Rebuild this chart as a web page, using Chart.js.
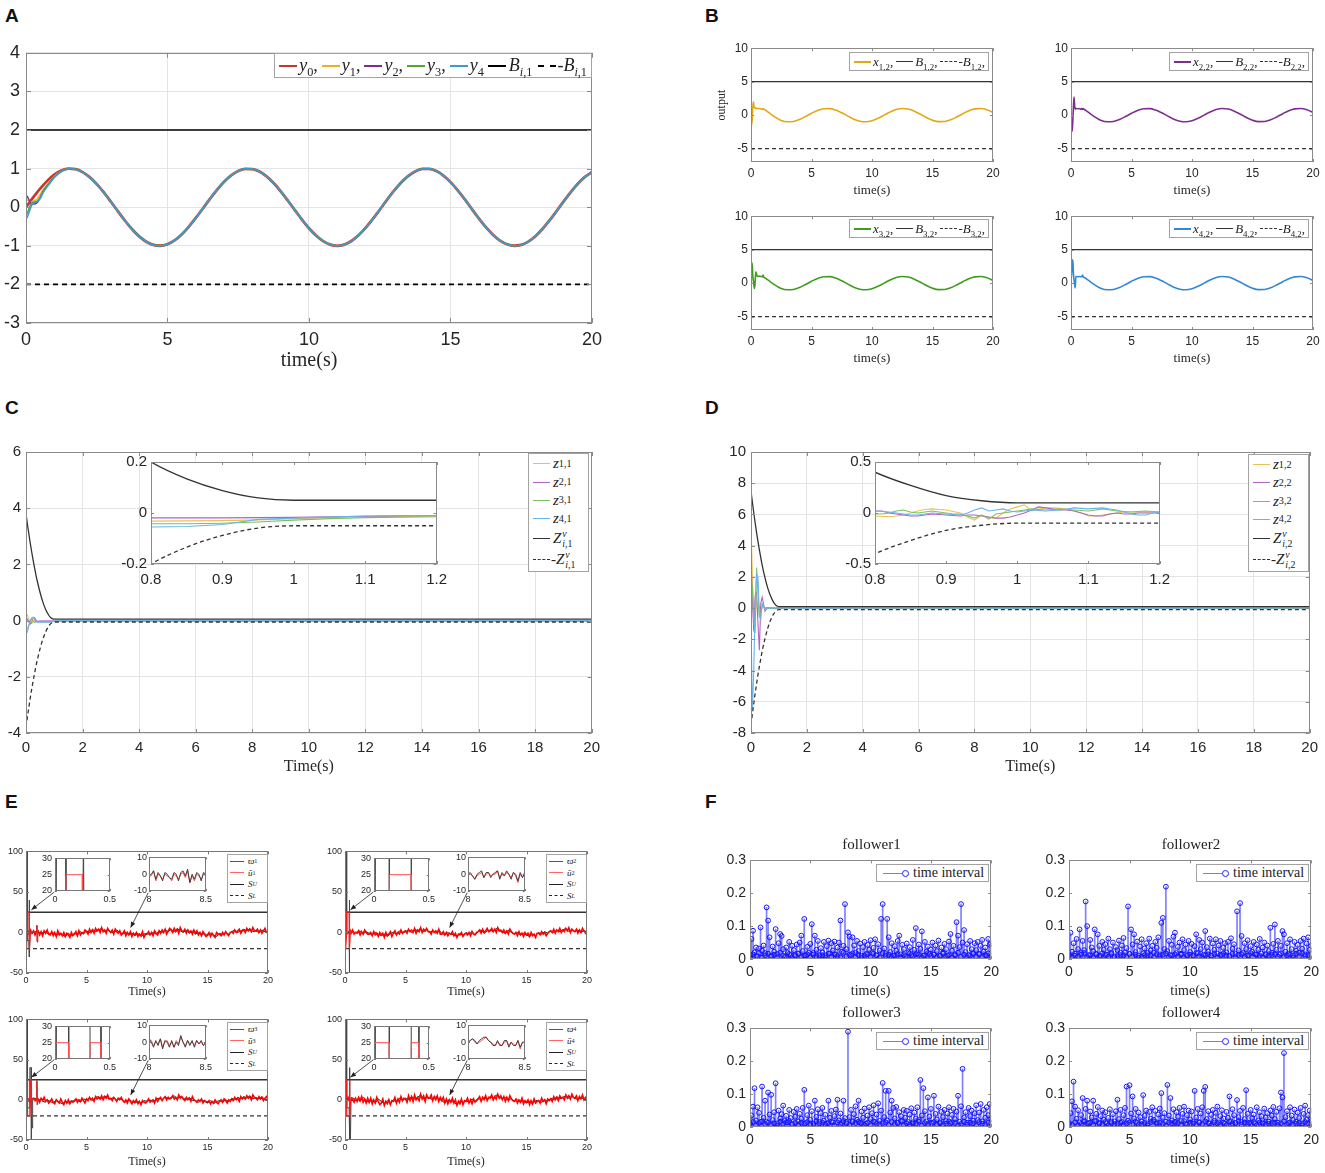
<!DOCTYPE html>
<html>
<head>
<meta charset="utf-8">
<title>Figure</title>
<script src="https://cdn.jsdelivr.net/npm/chart.js@4.4.1/dist/chart.umd.min.js"></script>
<style>
  html, body { margin: 0; padding: 0; background: #fff; }
  #root { position: relative; width: 1325px; height: 1173px; overflow: hidden; }
  #root canvas { position: absolute; }
  .pl { position: absolute; font: bold 19px "Liberation Sans", Arial, sans-serif; color: #111; }
  .lg { position: absolute; z-index: 10; background: #fff; border: 1px solid #a3a3a3; box-sizing: border-box;
        font-family: "Liberation Serif", "DejaVu Serif", serif; color: #222; white-space: nowrap;
        display: flex; align-items: center; }
  .col { flex-direction: column; align-items: flex-start; justify-content: space-evenly; }
  .row { display: flex; align-items: center; }
  .sw { display: inline-block; height: 0; border-top: 2px solid #000; }
  .dash { border-top-style: dashed; }
  sub, sup { font-size: 68%; line-height: 0; }
  .ss { display: inline-flex; flex-direction: column; font-size: 66%; line-height: 1; vertical-align: middle; margin-left: 1px; }
  .ft { position: absolute; z-index: 10; text-align: center; font: 15px "Liberation Serif", serif; color: #222; }
  .mk { display: inline-block; position: relative; width: 26px; height: 8px; margin: 0 4px 0 6px; }
  .mk::before { content: ""; position: absolute; left: 0; right: 3px; top: 3.5px; border-top: 1px solid #7777ff; }
  .mk::after { content: ""; position: absolute; right: 0; top: 0.5px; width: 5px; height: 5px; border: 1px solid #2222ff; border-radius: 50%; background: #fff; }
</style>
</head>
<body>
<div id="root">
  <div class="pl" style="left:5px;top:5px">A</div>
  <div class="pl" style="left:705px;top:5px">B</div>
  <div class="pl" style="left:5px;top:397px">C</div>
  <div class="pl" style="left:705px;top:397px">D</div>
  <div class="pl" style="left:5px;top:791px">E</div>
  <div class="pl" style="left:705px;top:791px">F</div>
</div>
<script>
// ---- panel A : outputs y0..y4 ----
var tA = [0,0.25,0.5,0.75, 1,1.25,1.5,1.75, 2,2.25,2.5,2.75, 3,3.25,3.5,3.75, 4,4.25,4.5,4.75,
  5,5.25,5.5,5.75, 6,6.25,6.5,6.75, 7,7.25,7.5,7.75, 8,8.25,8.5,8.75, 9,9.25,9.5,9.75,
  10,10.25,10.5,10.75, 11,11.25,11.5,11.75, 12,12.25,12.5,12.75, 13,13.25,13.5,13.75, 14,14.25,14.5,14.75,
  15,15.25,15.5,15.75, 16,16.25,16.5,16.75, 17,17.25,17.5,17.75, 18,18.25,18.5,18.75, 19,19.25,19.5,19.75, 20];
var y0 = [0,0.247,0.479,0.682, 0.841,0.949,0.997,0.984, 0.909,0.778,0.598,0.382, 0.141,-0.108,-0.351,-0.572,
  -0.757,-0.895,-0.978,-0.999, -0.959,-0.859,-0.706,-0.508, -0.279,-0.033,0.215,0.450, 0.657,0.823,0.938,0.995,
  0.989,0.922,0.798,0.625, 0.412,0.174,-0.075,-0.320, -0.544,-0.734,-0.880,-0.970, -1.000,-0.968,-0.876,-0.729,
  -0.537,-0.311,-0.066,0.183, 0.420,0.632,0.804,0.926, 0.991,0.994,0.935,0.818, 0.650,0.442,0.207,-0.042,
  -0.288,-0.517,-0.712,-0.865, -0.961,-0.999,-0.976,-0.891, -0.751,-0.564,-0.343,-0.099, 0.150,0.390,0.606,0.784, 0.913];
var tA0 = [0,0.05,0.1,0.15,0.2,0.3,0.4,0.5,0.6,0.8,1.0,1.25,1.5];
var y1T = [0.2,0.18,0.15,0.14,0.14,0.17,0.22,0.33,0.45,0.63,0.8,0.94,0.995];
var y2T = [0.3,0.27,0.2,0.13,0.09,0.08,0.12,0.25,0.4,0.6,0.78,0.93,0.995];
var y3T = [-0.2,-0.15,-0.05,0.05,0.1,0.14,0.16,0.25,0.4,0.6,0.78,0.93,0.995];
var y4T = [-0.3,-0.25,-0.15,-0.05,0.05,0.12,0.15,0.22,0.37,0.58,0.77,0.92,0.995];
var tEnds = [0, 20];
var bndA = [2, 2], bndAn = [-2, -2];
var ticksA_x = [0,5,10,15,20], ticksA_y = [-3,-2,-1,0,1,2,3,4];

// ---- panel B : states x_{i,2} ----
var tB0 = [0,0.05,0.1,0.15,0.2,0.25,0.3,0.35,0.4,0.5,0.6,0.7,0.8,0.9,0.95,1.0,1.05,1.1,1.3,1.6,2.0];
var xT1 = [0,-1.5,-0.6,1.2,2.0,1.3,1.1,1.05,1.05,1.0,1.0,0.98,0.95,0.9,0.85,1.0,0.85,0.85,0.6,0.2,-0.3];
var xT2 = [0,-1.2,-2.4,-0.8,1.2,2.7,1.4,0.9,1.0,1.0,0.95,1.0,0.9,1.0,0.85,1.0,0.9,0.85,0.6,0.2,-0.3];
var xT3 = [0,2.0,3.0,1.0,0.3,-0.5,-0.8,0.5,1.7,1.1,1.0,1.05,1.0,0.95,1.0,1.2,0.9,0.85,0.6,0.2,-0.3];
var xT4 = [0,1.5,3.0,3.5,1.5,0.5,-0.2,-0.7,1.0,1.0,0.95,1.0,0.95,1.0,1.2,0.95,0.9,0.85,0.6,0.2,-0.3];
var tB = [2.5,3,3.5,4,4.5, 5,5.5,6,6.5,7, 7.5,8,8.5,9,9.5, 10,10.5,11,11.5,12, 12.5,13,13.5,14,14.5,
  15,15.5,16,16.5,17, 17.5,18,18.5,19,19.5, 20];
var xB = [-0.801,-0.990,-0.937,-0.654,-0.211, 0.284,0.709,0.960,0.977,0.754, 0.347,-0.146,-0.602,-0.911,-0.997,
  -0.839,-0.476,0.004,0.483,0.844, 0.998,0.907,0.595,0.137,-0.355, -0.760,-0.975,-0.958,-0.702,-0.275,
  0.219,0.660,0.942,0.989,0.796, 0.408];
var bndB = [5, 5], bndBn = [-5, -5];
var ticksB_y = [-5,0,5,10];

// ---- panels C, D : errors z_{i,1}, z_{i,2} and bounds ----
var tZ = [0,0.05,0.1,0.15,0.2,0.25,0.3,0.35,0.4, 0.5,0.6,0.7,0.8, 0.85,0.9,0.95,1.0, 1.05,1.1,1.15,1.2, 2,5,10,15,20];
var ZvC = [3.8,3.43,3.09,2.76,2.45,2.16,1.89,1.63,1.4, 0.99,0.65,0.39,0.2, 0.134,0.088,0.059,0.05, 0.05,0.05,0.05,0.05, 0.05,0.05,0.05,0.05,0.05];
var ZvCn = [-3.8,-3.43,-3.09,-2.76,-2.45,-2.16,-1.89,-1.63,-1.4, -0.99,-0.65,-0.39,-0.2, -0.134,-0.088,-0.059,-0.05, -0.05,-0.05,-0.05,-0.05, -0.05,-0.05,-0.05,-0.05,-0.05];
var zC1 = [0.25,0.2,0.06,-0.05,-0.1,-0.05,0.02,0.0,-0.03, -0.032,-0.032,-0.032,-0.032, -0.031,-0.03,-0.027,-0.022, -0.018,-0.015,-0.013,-0.012, -0.01,-0.01,-0.01,-0.01,-0.01];
var zC2 = [0.1,0.05,-0.05,-0.12,-0.05,0.08,0.1,0.02,-0.03, -0.02,-0.02,-0.02,-0.019, -0.019,-0.019,-0.018,-0.017, -0.015,-0.013,-0.012,-0.011, -0.01,-0.01,-0.01,-0.01,-0.01];
var zC3 = [-0.3,-0.3,-0.15,0.0,0.05,-0.02,-0.06,-0.04,-0.04, -0.042,-0.042,-0.042,-0.042, -0.042,-0.04,-0.035,-0.028, -0.022,-0.018,-0.016,-0.015, -0.012,-0.012,-0.012,-0.012,-0.012];
var zC4 = [-0.48,-0.4,-0.2,0.0,0.1,0.12,0.05,-0.05,-0.06, -0.055,-0.055,-0.055,-0.055, -0.053,-0.045,-0.025,-0.02, -0.016,-0.012,-0.01,-0.01, -0.008,-0.008,-0.008,-0.008,-0.008];
var ZvD = [7.5,6.78,6.09,5.45,4.84,4.26,3.73,3.23,2.76, 1.95,1.28,0.77,0.4, 0.27,0.17,0.12,0.1, 0.1,0.1,0.1,0.1, 0.1,0.1,0.1,0.1,0.1];
var ZvDn = [-7.5,-6.78,-6.09,-5.45,-4.84,-4.26,-3.73,-3.23,-2.76, -1.95,-1.28,-0.77,-0.4, -0.27,-0.17,-0.12,-0.1, -0.1,-0.1,-0.1,-0.1, -0.1,-0.1,-0.1,-0.1,-0.1];
var zD1 = [5.5,2.0,-1.0,0.5,0.3,-0.3,0.1,0.0,0.05, 0.02,-0.02,0.03,-0.03, 0.0,0.03,-0.02,0.06, 0.05,-0.03,0.01,0.01, 0.01,0.0,0.01,0.0,0.01];
var zD2 = [3.0,0.5,-1.5,0.8,1.0,-1.0,-2.7,0.3,0.7, -0.2,0.05,-0.02,0.02, -0.03,-0.02,-0.03,-0.02, 0.04,-0.02,-0.01,0.0, 0.0,0.01,0.0,0.0,0.0];
var zD3 = [0.5,1.5,-0.8,-1.6,2.6,1.0,-0.5,-0.3,0.2, 0.0,0.03,-0.02,-0.01, 0.01,0.0,-0.02,0.02, 0.035,0.02,0.015,0.01, 0.01,0.01,0.0,0.01,0.0];
var zD4 = [-1.0,-6.5,-4.0,0.5,2.2,2.0,-0.5,-0.7,0.3, 0.0,-0.03,0.02,0.02, -0.02,-0.01,0.05,0.01, 0.025,0.04,0.01,0.01, 0.0,0.01,0.0,0.0,0.01];
var tDi = [0.8,0.81,0.82,0.83,0.84,0.85,0.86,0.87,0.88,0.89, 0.9,0.91,0.92,0.93,0.94,0.95,0.96,0.97,0.98,0.99,
  1,1.01,1.02,1.03,1.04,1.05,1.06,1.07,1.08,1.09, 1.1,1.11,1.12,1.13,1.14,1.15,1.16,1.17,1.18,1.19, 1.2];
var zDi1 = [-0.03,-0.035,-0.035,-0.03,-0.02,0,0.02,0.035,0.04,0.035, 0.03,0.015,0,-0.04,-0.07,-0.02,-0.045,-0.05,0,0.04,
  0.06,0.08,0.02,0.04,0.05,0.05,0.045,0.04,0.02,0, -0.03,-0.03,-0.02,-0.01,0,0.01,0.01,0.01,0.01,0.01, 0.01];
var zDi2 = [0.02,0.02,0,-0.01,-0.02,-0.03,-0.03,-0.02,-0.01,-0.015, -0.02,-0.025,-0.03,-0.02,-0.02,-0.03,-0.04,-0.05,-0.05,-0.04,
  -0.02,0,0.03,0.06,0.05,0.04,0.03,0.03,0.02,0, -0.02,-0.03,-0.03,-0.01,0,-0.01,-0.01,0,0,0, 0];
var zDi3 = [-0.01,-0.01,0,0.02,0.03,0.01,0,0.01,0.02,0.01, 0,-0.01,-0.01,-0.03,-0.05,-0.02,-0.06,-0.01,0,0.01,
  0.02,0.03,0.04,0.035,0.03,0.035,0.04,0.035,0.03,0.025, 0.02,0.03,0.04,0.03,0.02,0.015,0.01,0.015,0.02,0.015, 0.01];
var zDi4 = [0.02,0.015,0.01,0,-0.01,-0.02,-0.02,-0.01,0,-0.005, -0.01,-0.015,-0.02,0,0.03,0.05,0.02,0.03,0.04,0.02,
  0.01,0.02,0.03,0.025,0.02,0.025,0.03,0.04,0.05,0.045, 0.04,0.045,0.05,0.04,0.03,0.01,-0.01,-0.02,-0.02,0, 0.01];
var ticksCD_x = [0,2,4,6,8,10,12,14,16,18,20];
var ticksIn_x = [0.8,0.9,1,1.1,1.2];

// ---- panel E : control inputs ----
var tE = [0,0.125,0.25,0.375,0.5,0.625,0.75,0.875, 1,1.125,1.25,1.375,1.5,1.625,1.75,1.875,
  2,2.125,2.25,2.375,2.5,2.625,2.75,2.875, 3,3.125,3.25,3.375,3.5,3.625,3.75,3.875,
  4,4.125,4.25,4.375,4.5,4.625,4.75,4.875, 5,5.125,5.25,5.375,5.5,5.625,5.75,5.875,
  6,6.125,6.25,6.375,6.5,6.625,6.75,6.875, 7,7.125,7.25,7.375,7.5,7.625,7.75,7.875,
  8,8.125,8.25,8.375,8.5,8.625,8.75,8.875, 9,9.125,9.25,9.375,9.5,9.625,9.75,9.875,
  10,10.125,10.25,10.375,10.5,10.625,10.75,10.875, 11,11.125,11.25,11.375,11.5,11.625,11.75,11.875,
  12,12.125,12.25,12.375,12.5,12.625,12.75,12.875, 13,13.125,13.25,13.375,13.5,13.625,13.75,13.875,
  14,14.125,14.25,14.375,14.5,14.625,14.75,14.875, 15,15.125,15.25,15.375,15.5,15.625,15.75,15.875,
  16,16.125,16.25,16.375,16.5,16.625,16.75,16.875, 17,17.125,17.25,17.375,17.5,17.625,17.75,17.875,
  18,18.125,18.25,18.375,18.5,18.625,18.75,18.875, 19,19.125,19.25,19.375,19.5,19.625,19.75,19.875, 20];
var eR1 = [0,1,-2,3,-1,2,-3,1, 2,-3,1,-4,2,-1,3,-2, -3,1,-4,0,-5,2,-3,-1, -4,0,-5,-1,-3,-6,0,-4,
  -2,1,-4,2,-3,0,-1,3, 1,-2,4,0,3,-1,5,2, 4,0,6,1,3,-1,5,2, 0,3,-2,4,1,-1,2,-3,
  -1,2,-4,0,-3,1,-5,-1, -3,0,-5,-2,-4,1,-6,-2, -2,1,-3,0,-4,2,-1,-3, 2,-1,3,0,4,-2,2,5,
  3,0,5,1,4,-1,6,2, 1,4,-1,3,0,2,-2,3, -1,2,-3,0,-4,1,-2,-5, -3,0,-5,-1,-4,-6,0,-2,
  -2,-4,0,-3,1,-2,-4,0, 1,-1,3,0,2,4,-1,2, 3,0,5,2,4,1,6,2, 2,4,0,3,-1,2,5,0, 1];
var eR2 = [1,-2,0,2,-1,3,-2,0, -1,2,-3,1,-2,3,0,-2, -2,0,-4,1,-3,-1,-5,0, -3,-1,-6,0,-4,-2,1,-5,
  -1,2,-3,0,-2,3,-1,1, 2,-1,4,1,3,0,5,-1, 3,1,6,0,4,2,5,1, 1,-2,3,0,2,-1,4,-2,
  -2,1,-3,0,-4,-1,-2,1, -4,-1,-6,-2,-3,0,-5,-2, -1,-3,0,-4,1,-2,-3,0, 1,3,-1,4,0,2,5,1,
  2,5,1,4,0,6,2,3, 0,3,-1,2,-2,4,1,-1, -2,0,-4,1,-3,-1,-5,0, -3,-1,-5,0,-4,-2,-6,-1,
  -1,-3,1,-2,0,-4,-1,1, 2,0,4,-1,3,1,5,0, 3,1,5,2,6,0,4,2, 1,4,-1,3,0,5,2,-1, 2];
var eR3 = [-1,2,0,-3,1,2,-1,0, 1,-3,2,-1,3,-2,0,-4, -2,1,-3,-5,0,-2,-4,1, -3,-6,-1,-4,0,-5,-2,-3,
  -1,1,-3,0,-2,2,-1,-4, 1,-1,3,0,2,-2,4,1, 3,1,5,0,4,2,6,1, 2,-1,3,1,-2,2,0,3,
  -1,-3,0,-4,1,-2,-5,-1, -3,0,-5,-2,-6,-1,-3,-4, -2,1,-3,-1,0,-4,2,-2, 1,3,-1,2,4,0,3,1,
  2,5,1,3,0,6,2,4, 1,-1,3,0,2,-2,4,0, -1,-3,0,-2,1,-4,-1,-2, -3,-1,-5,-2,-4,0,-3,-5,
  -2,0,-3,1,-1,-4,0,-2, 1,-1,3,0,2,-2,4,1, 3,1,5,2,4,0,6,3, 2,0,4,1,3,-1,2,4, 1];
var eR4 = [2,-1,3,-2,0,1,-3,2, -2,3,-1,4,-3,1,-4,2, -3,2,-5,0,-4,3,-2,-6, -4,1,-7,-2,-5,0,-6,-1,
  -2,3,-4,1,-3,4,-1,2, 1,-3,5,-1,4,-2,6,0, 3,-1,7,1,5,-2,6,2, 2,6,-1,4,0,5,-2,3,
  -1,3,-4,1,-5,0,-3,2, -4,0,-7,-2,-5,1,-6,-1, -2,2,-4,0,-5,1,-3,-1, 1,4,-2,3,0,5,-1,3,
  2,6,0,4,1,7,2,5, 0,4,-2,3,-1,5,1,-1, -2,1,-4,0,-3,2,-5,-1, -3,0,-6,-1,-5,1,-4,-2,
  -1,-4,2,-2,0,-5,1,-1, 1,-2,4,0,3,-1,5,2, 3,0,6,2,5,1,7,3, 2,5,-1,4,1,6,0,3, 2];
var eB1 = [0,2,-1,1, 1,-2,2,-1, -2,0,-4,-1, -3,-5,-1,-4, -1,-3,1,-2, 2,0,4,1, 3,5,1,4, 1,-1,3,0, -2,0,-3,-1, -4,-1,-5,-2,
  -1,-3,0,-2, 2,0,3,1, 4,1,5,2, 0,3,-1,2, -2,0,-3,-1, -4,-1,-3,-5, -1,-3,0,-2, 1,3,0,2, 4,2,5,1, 2,0,3,1, 0];
var eB2 = [1,-1,2,0, 0,2,-2,1, -1,-3,0,-2, -4,-2,-5,-1, 0,-2,2,-1, 1,3,0,4, 2,5,1,3, 0,2,-1,3, -1,-3,0,-2, -3,-5,-1,-4,
  0,-2,1,-3, 1,3,-1,2, 3,1,5,2, 1,-1,3,0, -2,0,-3,-1, -3,-5,-2,-4, 0,-2,1,-1, 2,0,3,1, 3,5,1,4, 1,3,0,2, 1];
var eB3 = [0,-2,1,2, -1,1,-3,0, -2,-4,0,-3, -5,-2,-4,-1, -2,0,-3,1, 0,2,-1,3, 4,1,5,2, 1,3,-1,2, -1,-3,1,-2, -4,-2,-5,-1,
  -2,0,-3,1, 2,0,4,1, 3,5,1,4, 2,0,3,-1, -1,-3,0,-2, -4,-1,-5,-2, -1,-3,0,-2, 2,0,3,1, 4,2,5,1, 3,1,4,0, 1];
var eB4 = [-1,2,0,-2, 1,-2,3,-1, -3,0,-4,1, -2,-5,-1,-4, 0,-3,2,-1, 2,0,4,1, 3,6,1,4, 2,0,4,1, -1,-4,0,-2, -3,-6,-1,-4,
  -1,-3,1,-2, 2,0,3,1, 4,2,6,3, 1,3,-1,2, -2,0,-3,-1, -4,-2,-5,-1, -1,-3,0,-2, 2,0,4,1, 3,5,2,4, 2,0,3,1, 0];
// start-up transients (saturation at S_U / S_L)
var eRt1 = [0,0.03,0.06,0.1,0.1,0.25,0.25,0.3,0.35,0.45,0.88,0.9,0.93,0.96,1.0];
var eRv1 = [0,-20,-20,0,25,25,-20,-20,0,1,0,8,-10,3,0];
var eBt1 = [0,0.005,0.02,0.08,0.1,0.1,0.25,0.26,0.27,0.3,0.35,0.88,0.9,0.93,0.96,1.0];
var eBv1 = [100,-50,100,100,100,-10,-10,40,-30,-30,0,0,9,-12,3,0];
var eRt2 = [0,0.04,0.08,0.14,0.14,0.34,0.34,0.4,0.45,0.5,1.0];
var eRv2 = [0,-20,-20,0,25,25,-20,-20,2,0,0];
var eBt2 = [0,0.005,0.02,0.1,0.14,0.14,0.34,0.34,0.35,0.39,0.41,0.5,1.0];
var eBv2 = [100,-50,100,100,100,0,0,40,-50,-50,5,0,0];
var eRt3 = [0,0.125,0.125,0.2,0.32,0.32,0.42,0.42,0.48,0.55,0.88,0.9,0.93,0.96,1.0];
var eRv3 = [25,25,-20,-20,-20,25,25,-20,0,1,0,22,-5,2,0];
var eBt3 = [0,0.005,0.02,0.1,0.125,0.125,0.32,0.32,0.42,0.42,0.46,0.5,0.55,0.88,0.9,0.93,1.0];
var eBv3 = [100,-50,100,100,100,-10,-10,40,40,-50,-20,-35,2,0,24,-6,0];
var eRt4 = [0,0.14,0.14,0.2,0.34,0.34,0.41,0.41,0.46,0.55,1.0];
var eRv4 = [25,25,-20,-20,-20,25,25,-20,0,2,0];
var eBt4 = [0,0.005,0.02,0.1,0.14,0.14,0.34,0.34,0.41,0.41,0.45,0.5,1.0];
var eBv4 = [100,-50,100,100,100,-10,-10,40,40,-50,-50,3,0];
// zoom 8 .. 8.5 s
var tEi = [8,8.02,8.04,8.06,8.08,8.1,8.12,8.14,8.16,8.18,8.2,8.22,8.24,8.26,8.28,8.3,8.32,8.34,8.36,8.38,8.4,8.42,8.44,8.46,8.48,8.5];
var eRi1 = [-1,-1,2,-4,0,-1,-3,0,-1,-2,-4,0,-1,-3,0,1,-2,2,-5,-1,-4,0,-1,-3,0,-1];
var eBi1 = [-1,0,2,-3,1,-1,-4,1,0,-2,-3,1,0,-4,1,2,-1,3,-5,0,-3,1,0,-4,1,0];
var eRi2 = [0,0,-1,-3,-1,0,1,-2,0,1,-1,0,0,2,-2,0,-1,1,0,-2,1,-1,-5,0,-2,1];
var eBi2 = [0,1,-1,-3,0,1,2,-2,1,1,-2,0,1,2,-3,1,-1,2,0,-3,1,0,-4,1,-2,1];
var eRi3 = [2,1,-2,0,-1,2,-3,0,1,-2,0,-3,1,-1,3,0,-2,1,-1,0,-2,1,-1,0,-2,0];
var eBi3 = [2,0,-3,1,-2,2,-4,1,0,-3,1,-3,0,-2,4,0,-3,1,-2,1,-3,1,-1,1,-2,0];
var eRi4 = [0,1,2,0,-1,0,1,2,3,1,0,-1,-2,0,-1,-2,0,1,-2,0,-1,-2,1,-4,0,0];
var eBi4 = [0,1,2,1,-1,1,2,3,3,1,0,-2,-2,1,-2,-2,1,1,-3,0,-2,-2,1,-3,0,0];
var sU = [25, 25], sL = [-20, -20];
var ticksE_y = [-50,0,50,100];
var arrowsE = [[2.35,50,0.45,28],[10.1,49,8.65,6]];

// ---- panel F : inter-event times ----
var F1 = [.012,.061,.086,.020,.035,.008,.032,.096, .025,.041,.018,.157,.117,.066,.010,.038, .022,.091,.015,.048,.076,.070,.030,.006,
  .035,.018,.052,.012,.040,.027,.009,.044, .015,.050,.071,.024,.122,.011,.037,.019, .046,.106,.013,.071,.028,.055,.009,.033,
  .020,.052,.011,.039,.056,.017,.048,.026, .053,.014,.035,.050,.117,.022,.040,.167, .030,.081,.068,.012,.066,.041,.019,.055,
  .024,.047,.010,.036,.052,.015,.043,.028, .057,.018,.034,.060,.011,.045,.026,.122, .167,.032,.015,.122,.066,.021,.048,.010,
  .039,.025,.055,.071,.014,.043,.030,.008, .047,.020,.036,.012,.058,.028,.094,.017, .044,.031,.084,.010,.052,.022,.038,.015,
  .029,.050,.013,.041,.024,.056,.009,.035, .019,.046,.030,.011,.053,.076,.025,.040, .014,.112,.071,.036,.167,.050,.088,.021,
  .045,.012,.055,.030,.018,.048,.027,.052, .016,.040,.058,.023,.035,.011,.061,.044, .047];
var F2 = [.015,.080,.022,.048,.010,.061,.030,.090, .018,.055,.027,.175,.100,.012,.058,.035, .024,.090,.016,.075,.040,.009,.052,.028,
  .045,.013,.062,.030,.019,.050,.008,.036, .027,.056,.012,.041,.064,.020,.033,.160, .015,.090,.044,.075,.021,.053,.010,.038,
  .060,.017,.032,.048,.011,.062,.026,.040, .019,.052,.034,.066,.014,.110,.125,.030, .220,.024,.055,.012,.043,.068,.080,.018,
  .037,.050,.013,.060,.027,.044,.009,.055, .021,.046,.011,.039,.075,.018,.058,.030, .050,.013,.085,.036,.022,.062,.010,.047,
  .028,.060,.016,.041,.055,.012,.034,.048, .020,.052,.009,.063,.031,.045,.015,.145, .026,.170,.070,.018,.048,.030,.057,.011,
  .039,.022,.052,.014,.044,.028,.061,.017, .035,.050,.012,.041,.024,.095,.019,.046, .105,.028,.055,.013,.040,.085,.075,.022,
  .048,.016,.060,.030,.011,.052,.025,.043, .019,.055,.031,.062,.014,.047,.066,.028, .040];
var F3 = [.012,.035,.062,.118,.020,.060,.043,.015, .123,.028,.080,.016,.105,.038,.098,.021, .045,.133,.011,.050,.026,.039,.065,.018,
  .034,.014,.052,.027,.009,.046,.031,.055, .017,.040,.025,.058,.113,.012,.036,.065, .022,.048,.010,.080,.031,.054,.016,.042,
  .058,.019,.037,.011,.080,.028,.049,.014, .033,.053,.083,.020,.041,.012,.080,.027, .015,.290,.030,.052,.018,.039,.063,.022,
  .080,.013,.047,.028,.056,.010,.035,.060, .024,.042,.066,.015,.038,.072,.019,.050, .134,.030,.110,.020,.110,.044,.080,.058,
  .026,.061,.012,.045,.033,.018,.052,.028, .049,.015,.038,.057,.010,.044,.026,.060, .021,.143,.035,.118,.048,.017,.090,.032,
  .055,.012,.095,.040,.023,.062,.014,.046, .030,.052,.018,.041,.060,.011,.037,.055, .024,.047,.095,.016,.063,.177,.029,.045,
  .013,.058,.033,.050,.019,.042,.066,.021, .044,.070,.017,.052,.028,.060,.036,.070, .025];
var F4 = [.010,.042,.078,.138,.062,.025,.051,.014, .036,.088,.020,.055,.080,.012,.047,.029, .080,.018,.040,.061,.013,.033,.050,.022,
  .045,.011,.028,.054,.016,.039,.009,.048, .083,.024,.052,.015,.036,.058,.123,.019, .127,.041,.093,.026,.055,.012,.044,.030,
  .017,.097,.034,.050,.011,.046,.025,.060, .022,.049,.014,.038,.056,.103,.028,.042, .016,.128,.035,.088,.020,.054,.012,.045,
  .031,.058,.018,.040,.062,.010,.036,.050, .023,.047,.015,.110,.029,.055,.013,.041, .060,.110,.122,.024,.048,.011,.037,.052,
  .019,.043,.062,.014,.033,.051,.026,.010, .046,.028,.093,.017,.054,.036,.012,.082, .030,.049,.015,.058,.024,.112,.040,.013,
  .052,.027,.038,.011,.060,.020,.045,.033, .014,.056,.029,.042,.010,.050,.035,.061, .024,.046,.013,.057,.105,.090,.225,.030,
  .048,.012,.060,.035,.021,.053,.016,.044, .027,.058,.011,.040,.065,.022,.036,.050, .018];
// the many short intervals near the axis, on the 0.25 s grid tA
var F1lo = [.006,.014,.009,.018, .004,.011,.016,.007, .013,.005,.019,.010, .008,.015,.003,.012, .017,.006,.010,.014,
  .005,.018,.009,.012, .011,.004,.016,.007, .014,.009,.005,.019, .008,.013,.017,.006, .012,.004,.010,.015,
  .007,.016,.011,.005, .018,.009,.013,.006, .010,.015,.004,.012, .006,.017,.009,.014, .013,.005,.011,.018,
  .009,.014,.006,.010, .016,.008,.012,.004, .011,.019,.007,.013, .005,.010,.015,.008, .014,.006,.012,.017, .009];
var F2lo = [.010,.005,.016,.008, .013,.018,.006,.011, .004,.014,.009,.017, .012,.007,.015,.005, .009,.019,.011,.006,
  .016,.008,.013,.004, .007,.012,.018,.010, .005,.015,.009,.013, .017,.006,.011,.014, .008,.016,.005,.012,
  .013,.009,.018,.007, .006,.011,.014,.010, .015,.004,.012,.017, .010,.008,.016,.005, .012,.014,.007,.011,
  .018,.006,.013,.009, .005,.015,.010,.012, .014,.007,.017,.006, .011,.013,.004,.016, .008,.018,.009,.012, .014];
var F3lo = [.008,.015,.005,.012, .017,.009,.013,.006, .011,.004,.016,.010, .014,.018,.007,.012, .006,.013,.010,.015,
  .009,.005,.017,.011, .013,.008,.012,.016, .004,.014,.009,.018, .010,.006,.015,.012, .016,.011,.007,.013,
  .005,.017,.010,.008, .012,.014,.006,.015, .009,.013,.018,.005, .011,.007,.014,.010, .016,.004,.012,.009,
  .013,.015,.008,.011, .006,.010,.017,.014, .012,.005,.009,.016, .007,.013,.011,.004, .015,.010,.008,.013, .011];
var F4lo = [.012,.007,.014,.005, .009,.016,.011,.013, .006,.018,.010,.008, .015,.004,.012,.017, .010,.013,.007,.011,
  .014,.009,.016,.006, .008,.012,.005,.015, .017,.010,.013,.009, .004,.014,.011,.016, .012,.006,.018,.008,
  .013,.010,.007,.015, .009,.017,.012,.005, .014,.011,.008,.013, .006,.016,.010,.012, .018,.007,.013,.009,
  .011,.015,.005,.014, .010,.008,.016,.012, .013,.006,.011,.017, .009,.014,.007,.010, .012,.005,.015,.011, .008];
var ticksF_y = [0,0.1,0.2,0.3];

// ---------------------------------------------------------------------------
var SANS = '"Liberation Sans", Arial, sans-serif';
var SERIF = '"Liberation Serif", "DejaVu Serif", serif';
var cRed = '#c8372d', cYel = '#edb120', cPur = '#7e2f8e', cGrn = '#4fa630', cBlu = '#3a9ad9';
var bYel = '#e3a815', bPur = '#7e2f8e', bGrn = '#3f9c1f', bBlu = '#3388d6';
var dYel = '#e9c256', dPur = '#b163c2', dGrn = '#7cc25c', dBlu = '#6ab4ee';
var root = document.getElementById('root');

Chart.defaults.animation = false;
Chart.defaults.responsive = false;
Chart.defaults.maintainAspectRatio = false;
Chart.defaults.events = [];
Chart.defaults.plugins.legend.display = false;
Chart.defaults.plugins.tooltip.enabled = false;
Chart.defaults.font.family = SANS;
Chart.defaults.color = '#262626';

// box round the plot area, with inward ticks like the original
var framePlugin = {
  id: 'frame',
  defaults: { color: '#8a8a8a', tick: 3, fill: null },
  beforeDraw: function(chart, args, o) {
    if (!o.fill) return;
    var a = chart.chartArea, ctx = chart.ctx;
    ctx.save();
    ctx.fillStyle = o.fill;
    ctx.fillRect(a.left, a.top, a.right - a.left, a.bottom - a.top);
    ctx.restore();
  },
  afterDraw: function(chart, args, o) {
    var a = chart.chartArea, ctx = chart.ctx, sx = chart.scales.x, sy = chart.scales.y;
    ctx.save();
    ctx.strokeStyle = o.color;
    ctx.lineWidth = 1;
    ctx.beginPath();
    if (o.tick) {
      sx.ticks.forEach(function(t) {
        var px = Math.round(sx.getPixelForValue(t.value)) + 0.5;
        ctx.moveTo(px, a.bottom); ctx.lineTo(px, a.bottom - o.tick);
        ctx.moveTo(px, a.top); ctx.lineTo(px, a.top + o.tick);
      });
      sy.ticks.forEach(function(t) {
        var py = Math.round(sy.getPixelForValue(t.value)) + 0.5;
        ctx.moveTo(a.left, py); ctx.lineTo(a.left + o.tick, py);
        ctx.moveTo(a.right, py); ctx.lineTo(a.right - o.tick, py);
      });
    }
    ctx.stroke();
    ctx.strokeRect(Math.round(a.left) + 0.5, Math.round(a.top) + 0.5, Math.round(a.right - a.left) - 1, Math.round(a.bottom - a.top) - 1);
    ctx.restore();
  }
};
// arrows pointing from the zoom boxes, given in data units
var arrowPlugin = {
  id: 'arrows',
  defaults: { list: null },
  afterDraw: function(chart, args, o) {
    if (!o.list) return;
    var ctx = chart.ctx, sx = chart.scales.x, sy = chart.scales.y;
    ctx.save();
    ctx.strokeStyle = '#222'; ctx.fillStyle = '#222'; ctx.lineWidth = 0.8;
    o.list.forEach(function(r) {
      var x0 = sx.getPixelForValue(r[0]), y0p = sy.getPixelForValue(r[1]);
      var x1 = sx.getPixelForValue(r[2]), y1p = sy.getPixelForValue(r[3]);
      ctx.beginPath(); ctx.moveTo(x0, y0p); ctx.lineTo(x1, y1p); ctx.stroke();
      var ang = Math.atan2(y1p - y0p, x1 - x0), h = 6;
      ctx.beginPath();
      ctx.moveTo(x1, y1p);
      ctx.lineTo(x1 - h * Math.cos(ang - 0.4), y1p - h * Math.sin(ang - 0.4));
      ctx.lineTo(x1 - h * Math.cos(ang + 0.4), y1p - h * Math.sin(ang + 0.4));
      ctx.closePath(); ctx.fill();
    });
    ctx.restore();
  }
};
Chart.register(framePlugin, arrowPlugin);

function pts(xs, ys) {
  return xs.map(function(x, i) { return { x: x, y: ys[i] }; });
}
function ds(data, color, width, extra) {
  return Object.assign({ type: 'line', data: data, borderColor: color, backgroundColor: color, borderWidth: width,
    pointRadius: 0, fill: false, tension: 0 }, extra || {});
}
function axis(min, max, ticks, o) {
  return {
    type: 'linear', min: min, max: max, offset: false,
    afterBuildTicks: function(s) { s.ticks = ticks.map(function(v) { return { value: v }; }); },
    ticks: { font: { family: SANS, size: o.fs }, color: '#262626', padding: o.pad, maxRotation: 0, autoSkip: false,
      callback: function(v) { return String(v); } },
    grid: { display: !!o.grid, offset: false, color: '#e4e4e4', drawTicks: false },
    border: { display: false },
    title: { display: !!o.title, text: o.title || '', font: { family: SERIF, size: o.ts || 12 }, color: '#262626', padding: 0 }
  };
}
// box = plot area [left, top, right, bottom] on the page, pad = room for [y axis, top, right, x axis]
function makeChart(box, pad, z, datasets, xAx, yAx, plug) {
  var c = document.createElement('canvas');
  var w = box[2] - box[0] + pad[0] + pad[2], h = box[3] - box[1] + pad[1] + pad[3];
  c.width = w; c.height = h;
  c.style.cssText = 'left:' + (box[0] - pad[0]) + 'px;top:' + (box[1] - pad[1]) + 'px;width:' + w + 'px;height:' + h + 'px;z-index:' + z;
  root.appendChild(c);
  xAx.afterFit = function(s) { s.height = pad[3]; };
  yAx.afterFit = function(s) { s.width = pad[0]; };
  return new Chart(c, {
    type: 'line',
    data: { datasets: datasets },
    options: {
      layout: { padding: { left: 0, top: pad[1], right: pad[2], bottom: 0 } },
      scales: { x: xAx, y: yAx },
      plugins: Object.assign({ frame: {} }, plug || {})
    }
  });
}
function addHTML(html) { root.insertAdjacentHTML('beforeend', html); }
var mono = { cubicInterpolationMode: 'monotone' };

// ---- A ----
function follow(t0, v0) {
  var last = t0[t0.length - 1];
  return pts(t0, v0).concat(pts(tA, y0).filter(function(p) { return p.x > last; }));
}
makeChart([26, 48, 592, 323], [26, 12, 16, 50], 1, [
  ds(follow(tA0, y4T), cBlu, 1.5, mono),
  ds(follow(tA0, y3T), cGrn, 1.5, mono),
  ds(follow(tA0, y2T), cPur, 1.5, mono),
  ds(follow(tA0, y1T), cYel, 1.5, mono),
  ds(pts(tA, y0), cRed, 2.8, mono),
  ds(pts(tEnds, bndA), '#000', 1.6),
  ds(pts(tEnds, bndAn), '#000', 1.6, { borderDash: [5, 4] })
], axis(0, 20, ticksA_x, { fs: 18, pad: 6, grid: true, title: 'time(s)', ts: 20 }),
   axis(-3, 4, ticksA_y, { fs: 18, pad: 6, grid: true }), { frame: { tick: 5 } });
addHTML('<div class="lg" style="right:733px;top:53px;height:25px;font-size:18px;padding:0 4px 0 1px;">' +
  '<span class="sw" style="width:18px;margin:0 2px 0 3px;border-color:' + cRed + '"></span><span><i>y</i><sub>0</sub>,</span>' +
  '<span class="sw" style="width:18px;margin:0 2px 0 4px;border-color:' + cYel + '"></span><span><i>y</i><sub>1</sub>,</span>' +
  '<span class="sw" style="width:18px;margin:0 2px 0 4px;border-color:' + cPur + '"></span><span><i>y</i><sub>2</sub>,</span>' +
  '<span class="sw" style="width:18px;margin:0 2px 0 4px;border-color:' + cGrn + '"></span><span><i>y</i><sub>3</sub>,</span>' +
  '<span class="sw" style="width:18px;margin:0 2px 0 4px;border-color:' + cBlu + '"></span><span><i>y</i><sub>4</sub></span>' +
  '<span class="sw" style="width:18px;margin:0 3px 0 4px;border-color:#000"></span><span><i>B</i><sub><i>i</i>,1</sub></span>' +
  '<span class="sw dash" style="width:18px;margin:0 1px 0 6px;border-color:#000"></span><span>-<i>B</i><sub><i>i</i>,1</sub></span></div>');

// ---- B ----
var Bp = [
  { box: [751, 48, 993, 162], c: bYel, v: xT1, n: 1, lgR: 336, lgT: 52, yt: 'output' },
  { box: [1071, 48, 1313, 162], c: bPur, v: xT2, n: 2, lgR: 16, lgT: 52 },
  { box: [751, 216, 993, 330], c: bGrn, v: xT3, n: 3, lgR: 336, lgT: 219 },
  { box: [1071, 216, 1313, 330], c: bBlu, v: xT4, n: 4, lgR: 16, lgT: 219 }
];
Bp.forEach(function(p) {
  makeChart(p.box, [36, 10, 11, 36], 1, [
    ds(pts(tB0, p.v).concat(pts(tB, xB)), p.c, 1.6, mono),
    ds(pts(tEnds, bndB), '#333', 1.2),
    ds(pts(tEnds, bndBn), '#333', 1.2, { borderDash: [4, 3] })
  ], axis(0, 20, ticksA_x, { fs: 12, pad: 4, title: 'time(s)', ts: 13 }),
     axis(-7, 10, ticksB_y, { fs: 12, pad: 3, title: p.yt, ts: 12 }), { frame: { tick: 3 } });
  addHTML('<div class="lg" style="right:' + p.lgR + 'px;top:' + p.lgT + 'px;height:19px;font-size:13px;padding:0 3px 0 1px;">' +
    '<span class="sw" style="width:17px;margin:0 2px 0 3px;border-color:' + p.c + '"></span><span><i>x</i><sub>' + p.n + ',2</sub>,</span>' +
    '<span class="sw" style="width:17px;margin:0 2px 0 3px;border-color:#333;border-top-width:1px"></span><span><i>B</i><sub>' + p.n + ',2</sub>,</span>' +
    '<span class="sw dash" style="width:17px;margin:0 1px 0 3px;border-color:#333;border-top-width:1px"></span><span>-<i>B</i><sub>' + p.n + ',2</sub>,</span></div>');
});

// ---- C and D ----
function zLegend(left, top, w, h, k) {
  var rows = [[dYel, '1'], [dPur, '2'], [dGrn, '3'], [dBlu, '4']].map(function(r) {
    return '<div class="row"><span class="sw" style="width:17px;margin:0 3px 0 4px;border-color:' + r[0] + ';border-top-width:1.5px"></span><i>z</i><sub>' + r[1] + ',' + k + '</sub></div>';
  }).join('');
  addHTML('<div class="lg col" style="left:' + left + 'px;top:' + top + 'px;width:' + w + 'px;height:' + h + 'px;font-size:15px;">' + rows +
    '<div class="row"><span class="sw" style="width:17px;margin:0 3px 0 4px;border-color:#333;border-top-width:1.5px"></span><i>Z</i><span class="ss"><i>v</i><span><i>i</i>,' + k + '</span></span></div>' +
    '<div class="row"><span class="sw dash" style="width:17px;margin:0 1px 0 4px;border-color:#333;border-top-width:1.5px"></span>-<i>Z</i><span class="ss"><i>v</i><span><i>i</i>,' + k + '</span></span></div></div>');
}
function zSets(Zv, Zvn, z1, z2, z3, z4, tz) {
  return [
    ds(pts(tZ, Zv), '#333', 1.3, mono),
    ds(pts(tZ, Zvn), '#333', 1.3, { cubicInterpolationMode: 'monotone', borderDash: [4, 3] }),
    ds(pts(tz, z4), dBlu, 1.1),
    ds(pts(tz, z3), dGrn, 1.1),
    ds(pts(tz, z2), dPur, 1.1),
    ds(pts(tz, z1), dYel, 1.1)
  ];
}
makeChart([26, 450, 592, 733], [26, 12, 14, 43], 1, zSets(ZvC, ZvCn, zC1, zC2, zC3, zC4, tZ),
  axis(0, 20, ticksCD_x, { fs: 15, pad: 6, grid: true, title: 'Time(s)', ts: 16 }),
  axis(-4, 6, [-4, -2, 0, 2, 4, 6], { fs: 15, pad: 5, grid: true }), { frame: { tick: 4 } });
makeChart([151, 459, 442, 564], [32, 10, 12, 26], 2, zSets(ZvC, ZvCn, zC1, zC2, zC3, zC4, tZ),
  axis(0.8, 1.2, ticksIn_x, { fs: 15, pad: 7 }),
  axis(-0.2, 0.2, [-0.2, 0, 0.2], { fs: 15, pad: 4 }), { frame: { tick: 3, fill: '#fff' } });
zLegend(528, 453, 61, 119, 1);

makeChart([751, 450, 1313, 733], [36, 12, 11, 43], 1, zSets(ZvD, ZvDn, zD1, zD2, zD3, zD4, tZ),
  axis(0, 20, ticksCD_x, { fs: 15, pad: 6, grid: true, title: 'Time(s)', ts: 16 }),
  axis(-8, 10, [-8, -6, -4, -2, 0, 2, 4, 6, 8, 10], { fs: 15, pad: 5, grid: true }), { frame: { tick: 4 } });
makeChart([875, 459, 1165, 564], [36, 10, 12, 26], 2, zSets(ZvD, ZvDn, zDi1, zDi2, zDi3, zDi4, tDi),
  axis(0.8, 1.2, ticksIn_x, { fs: 15, pad: 7 }),
  axis(-0.5, 0.5, [-0.5, 0, 0.5], { fs: 15, pad: 4 }), { frame: { tick: 3, fill: '#fff' } });
zLegend(1248, 454, 61, 118, 2);

// ---- E ----
var Ep = [
  { box: [26, 851, 268, 973], pl: 26, pb: 26, red: eR1, blk: eB1, rt: eRt1, rv: eRv1, bt: eBt1, bv: eBv1, ri: eRi1, bi: eBi1 },
  { box: [345, 851, 587, 973], pl: 36, pb: 26, red: eR2, blk: eB2, rt: eRt2, rv: eRv2, bt: eBt2, bv: eBv2, ri: eRi2, bi: eBi2 },
  { box: [26, 1019, 268, 1140], pl: 26, pb: 29, red: eR3, blk: eB3, rt: eRt3, rv: eRv3, bt: eBt3, bv: eBv3, ri: eRi3, bi: eBi3 },
  { box: [345, 1019, 587, 1140], pl: 36, pb: 29, red: eR4, blk: eB4, rt: eRt4, rv: eRv4, bt: eBt4, bv: eBv4, ri: eRi4, bi: eBi4 }
];
Ep.forEach(function(e, k) {
  makeChart(e.box, [e.pl, 8, 12, e.pb], 1, [
    ds(pts(e.rt, e.rv), '#ff1a1a', 1.2),
    ds(pts(e.bt, e.bv), '#444', 1),
    ds(pts(tE, e.red), '#ff0000', 1.6),
    ds(pts(tA, e.blk), '#222', 1),
    ds(pts(tEnds, sU), '#333', 1.5),
    ds(pts(tEnds, sL), '#333', 1.3, { borderDash: [4, 3] })
  ], axis(0, 20, ticksA_x, { fs: 9, pad: 2, title: 'Time(s)', ts: 12 }),
     axis(-50, 100, ticksE_y, { fs: 9, pad: 3 }), { frame: { tick: 3, color: '#777' }, arrows: { list: arrowsE } });
  var dx = e.box[0] - 26, dy = e.box[1] - 851;
  makeChart([55 + dx, 856 + dy, 111 + dx, 891 + dy], [18, 6, 8, 14], 2, [
    ds(pts(e.rt, e.rv), '#ff4d4d', 1),
    ds(pts(e.bt, e.bv), '#444', 1)
  ], axis(0, 0.5, [0, 0.5], { fs: 9, pad: 3 }), axis(20, 30, [20, 25, 30], { fs: 9, pad: 3 }),
     { frame: { tick: 2, fill: '#fff', color: '#777' } });
  makeChart([149 + dx, 856 + dy, 207 + dx, 891 + dy], [18, 6, 8, 14], 2, [
    ds(pts(tEi, e.bi), '#333', 0.9),
    ds(pts(tEi, e.ri), '#ff5555', 1)
  ], axis(8, 8.5, [8, 8.5], { fs: 9, pad: 3 }), axis(-10, 10, [-10, 0, 10], { fs: 9, pad: 2 }),
     { frame: { tick: 2, fill: '#fff', color: '#777' } });
  var n = k + 1;
  addHTML('<div class="lg col" style="left:' + (227 + dx) + 'px;top:' + (854 + dy) + 'px;width:41px;height:49px;font-size:9px;">' +
    '<div class="row"><span class="sw" style="width:14px;margin:0 4px 0 2px;border-color:#555;border-top-width:1px"></span><i>&#982;</i><sub>' + n + '</sub></div>' +
    '<div class="row"><span class="sw" style="width:14px;margin:0 4px 0 2px;border-color:#ff6666;border-top-width:1px"></span><i>&#363;</i><sub>' + n + '</sub></div>' +
    '<div class="row"><span class="sw" style="width:14px;margin:0 4px 0 2px;border-color:#222;border-top-width:1.5px"></span><i>S</i><sub><i>U</i></sub></div>' +
    '<div class="row"><span class="sw dash" style="width:14px;margin:0 4px 0 2px;border-color:#222;border-top-width:1px"></span><i>S</i><sub><i>L</i></sub></div></div>');
});

// ---- F ----
var Fp = [
  { box: [750, 858, 993, 959], v: F1, lo: F1lo, name: 'follower1', lgR: 336, lgT: 864 },
  { box: [1069, 858, 1313, 959], v: F2, lo: F2lo, name: 'follower2', lgR: 16, lgT: 864 },
  { box: [750, 1026, 993, 1127], v: F3, lo: F3lo, name: 'follower3', lgR: 336, lgT: 1032 },
  { box: [1069, 1026, 1313, 1127], v: F4, lo: F4lo, name: 'follower4', lgR: 16, lgT: 1032 }
];
function markers(data) {
  return { type: 'line', data: data, showLine: false, pointRadius: 2.4, pointStyle: 'circle',
    pointBorderColor: '#1414ff', pointBackgroundColor: 'rgba(0,0,0,0)', pointBorderWidth: 1, borderColor: '#1414ff' };
}
function stems(data) {
  return { type: 'bar', data: data, backgroundColor: '#7f7fff', barThickness: 1, borderWidth: 0, grouped: false };
}
Fp.forEach(function(f) {
  makeChart(f.box, [40, 10, 11, 41], 1, [
    markers(pts(tE, f.v)),
    markers(pts(tA, f.lo)),
    stems(pts(tE, f.v)),
    stems(pts(tA, f.lo))
  ], axis(0, 20, ticksA_x, { fs: 14, pad: 5, title: 'time(s)', ts: 14 }),
     axis(0, 0.3, ticksF_y, { fs: 14, pad: 4 }), { frame: { tick: 3 } });
  addHTML('<div class="ft" style="left:' + f.box[0] + 'px;top:' + (f.box[1] - 22) + 'px;width:' + (f.box[2] - f.box[0]) + 'px;">' + f.name + '</div>');
  addHTML('<div class="lg" style="right:' + f.lgR + 'px;top:' + f.lgT + 'px;height:18px;width:113px;font-size:14px;"><span class="mk"></span>time interval</div>');
});
</script>
</body>
</html>
